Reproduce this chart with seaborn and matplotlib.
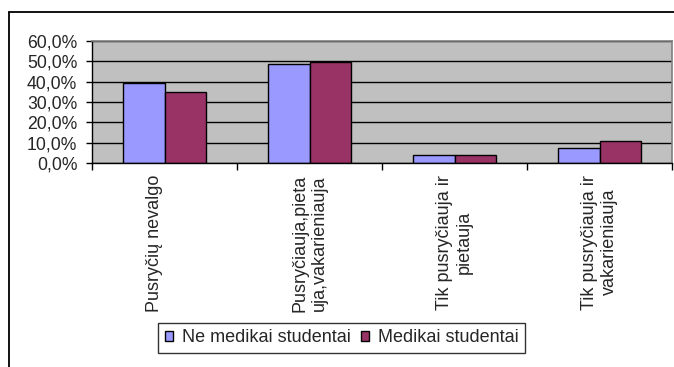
import matplotlib
matplotlib.use("Agg")
import matplotlib.pyplot as plt
from matplotlib.ticker import FuncFormatter, FixedLocator
from matplotlib.lines import Line2D
from matplotlib.transforms import ScaledTranslation
import seaborn as sns
import pandas as pd

categories = [
    "Pusryčių nevalgo",
    "Pusryčiauja,pieta\nuja,vakarieniauja",
    "Tik pusryčiauja ir\npietauja",
    "Tik pusryčiauja ir\nvakarieniauja",
]
series_names = ["Ne medikai studentai", "Medikai studentai"]
ne_medikai = [39.2, 48.9, 4.1, 7.5]
medikai = [35.0, 49.5, 4.1, 11.0]
y_ticks = [0, 10, 20, 30, 40, 50, 60]
colors = ["#9999FF", "#993366"]

df = pd.DataFrame({
    "kategorija": categories * 2,
    "grupe": [series_names[0]] * 4 + [series_names[1]] * 4,
    "procentai": ne_medikai + medikai,
})

sns.set_theme(style="white")
plt.rcParams["font.family"] = ["Liberation Sans", "DejaVu Sans"]
FS = 13.0

fig = plt.figure(figsize=(6.74, 3.67), dpi=100)
ax = fig.add_axes([92 / 674, 1 - 163 / 367, 580 / 674, 122 / 367])
ax.set_facecolor("#C0C0C0")

sns.barplot(data=df, x="kategorija", y="procentai", hue="grupe",
            palette=colors, width=0.57, gap=0, edgecolor="black",
            linewidth=1.0, saturation=1, legend=False, ax=ax, errorbar=None)

ax.set_ylim(0, 60)
ax.set_xlim(-0.5, 3.5)
ax.yaxis.set_major_locator(FixedLocator(y_ticks))
ax.yaxis.set_major_formatter(FuncFormatter(lambda v, p: f"{v:.1f}%".replace(".", ",")))
ax.set_axisbelow(True)
ax.yaxis.grid(True, color="black", linewidth=1.0)
ax.xaxis.grid(False)

ax.set_xlabel("")
ax.set_ylabel("")
ax.set_xticks(range(4))
ax.set_xticklabels(categories, rotation=90, va="top", ha="center",
                   multialignment="center", fontsize=FS)
ax.tick_params(axis="x", which="major", length=0, pad=8.5)
ax.set_xticks([-0.5, 0.5, 1.5, 2.5, 3.5], minor=True)
ax.tick_params(axis="x", which="minor", length=5, width=1, color="black",
               direction="out", bottom=True)
ax.tick_params(axis="y", length=4.3, width=1, color="black", direction="out",
               left=True, labelsize=12.7, pad=6.3)

# the single-line category label sits a little left of its group
first = ax.get_xticklabels()[0]
first.set_transform(first.get_transform()
                    + ScaledTranslation(-10 / 100, 0, fig.dpi_scale_trans))

for side in ["top", "right"]:
    ax.spines[side].set_color("#808080")
    ax.spines[side].set_linewidth(1.2)
for side in ["left", "bottom"]:
    ax.spines[side].set_color("black")
    ax.spines[side].set_linewidth(1.0)

handles = [plt.Rectangle((0, 0), 1, 1, facecolor=c, edgecolor="black", linewidth=1.0)
           for c in colors]
leg = fig.legend(handles, series_names, loc="center",
                 bbox_to_anchor=(341.5 / 674, 1 - 338 / 367), ncol=2,
                 frameon=True, fancybox=False, edgecolor="black",
                 fontsize=FS, handlelength=0.45, handleheight=0.45,
                 handletextpad=0.5, columnspacing=0.55, borderpad=0.35,
                 borderaxespad=0)
leg.get_frame().set_linewidth(1.0)

# outer chart frame
fig.add_artist(Line2D([9 / 674, 9 / 674], [0, 1 - 12 / 367],
                      transform=fig.transFigure, color="black", linewidth=1.3))
fig.add_artist(Line2D([9 / 674, 1], [1 - 12 / 367, 1 - 12 / 367],
                      transform=fig.transFigure, color="black", linewidth=1.3))

fig.savefig("out.png", dpi=100)
